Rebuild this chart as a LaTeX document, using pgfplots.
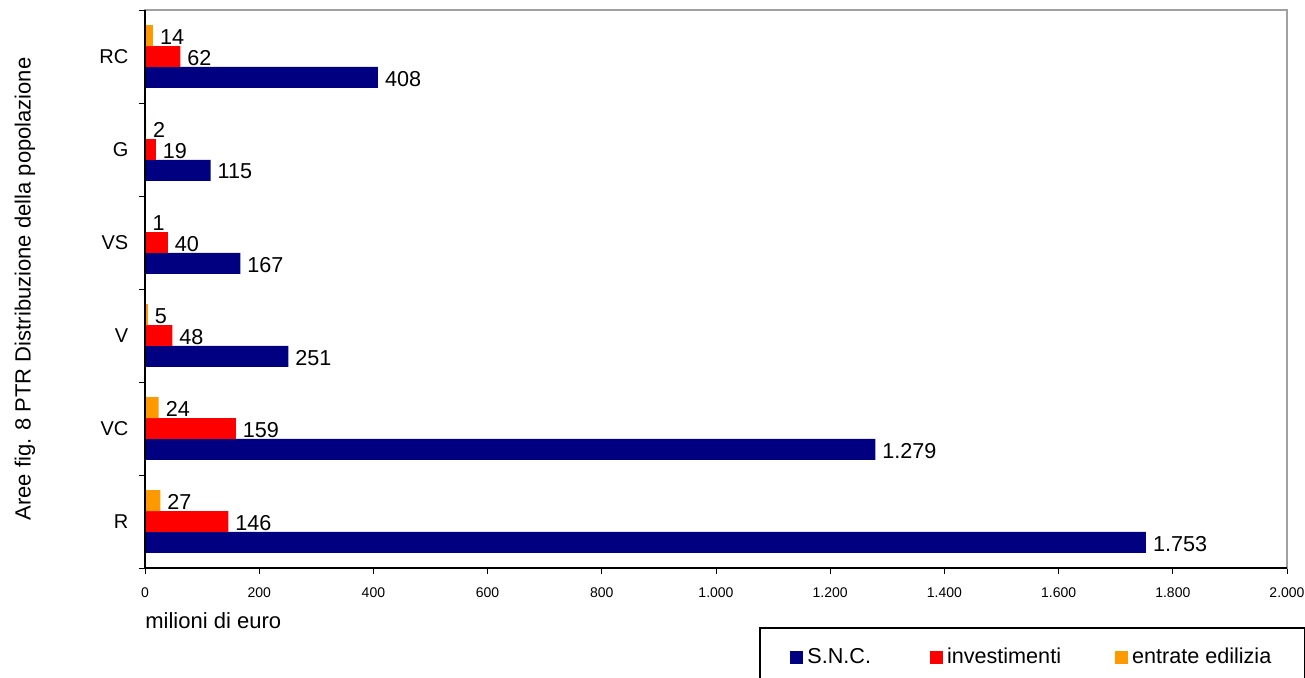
\documentclass[border=0pt]{standalone}
\usepackage{pgfplots}
\usepackage{pgfplotstable}
\pgfplotsset{compat=1.18}
\usepackage{fontspec}
\setmainfont{Liberation Sans}
\definecolor{snc}{RGB}{0,0,128}
\definecolor{inv}{RGB}{255,0,0}
\definecolor{ent}{RGB}{255,153,0}
\definecolor{frame}{RGB}{160,160,160}

\pgfplotstableread{
y snc inv ent
0 1753 146 27
1 1279 159 24
2 251 48 5
3 167 40 1
4 115 19 2
5 408 62 14
}\datatable

\begin{document}
\begin{tikzpicture}
\begin{axis}[
  at={(0pt,0pt)}, anchor=south west,
  scale only axis, width=571pt, height=279pt,
  xmin=0, xmax=2000, ymin=-0.5, ymax=5.5,
  clip=false,
  xbar, bar width=0.225,
  axis line style={frame, line width=0.6pt},
  xtick={0,200,400,600,800,1000,1200,1400,1600,1800,2000},
  xtick pos=bottom, ytick pos=left,
  tick align=outside, major tick length=2.8pt,
  tick style={black, line width=0.5pt},
  ytick={-0.5,0.5,1.5,2.5,3.5,4.5,5.5},
  yticklabels={R,VC,V,VS,G,RC},
  y tick label as interval,
  xticklabel style={font=\fontsize{7}{8}\selectfont, yshift=-3.5pt},
  yticklabel style={font=\fontsize{10}{12}\selectfont, xshift=-2pt},
  /pgf/number format/.cd, 1000 sep={.}, assume math mode=true, /pgfplots/.cd,
  scaled x ticks=false,
  point meta=x,
  nodes near coords,
  nodes near coords style={font=\fontsize{10.8}{12}\selectfont, anchor=west, text=black, yshift=-0.6pt},
  legend columns=3,
  legend style={draw=none, fill=none, at={(axis description cs:0.5648,-0.1595)}, anchor=west,
    inner sep=0pt, font=\fontsize{10.8}{13}\selectfont,
    nodes={inner xsep=2pt, inner ysep=1pt},
    /tikz/column 2/.style={column sep=27.5pt},
    /tikz/column 4/.style={column sep=25pt}},
  legend image code/.code={\fill[#1] (0pt,-3.25pt) rectangle (6.5pt,3.25pt);},
]
\addplot[fill=snc, draw=none, bar shift=-0.225] table[x=snc, y=y] {\datatable};
\addplot[fill=inv, draw=none, bar shift=0] table[x=inv, y=y] {\datatable};
\addplot[fill=ent, draw=none, bar shift=0.225] table[x=ent, y=y] {\datatable};
\legend{S.N.C., investimenti, entrate edilizia}
\draw[black, line width=0.6pt] (rel axis cs:0,1) -- (rel axis cs:0,0) -- (rel axis cs:1,0);
\end{axis}
\node[anchor=base west, font=\fontsize{11}{13}\selectfont, inner sep=0pt] at (0pt,-30pt) {milioni di euro};
\node[rotate=90, font=\fontsize{11}{13}\selectfont, inner sep=0pt] at (-60pt,139.5pt) {Aree fig. 8 PTR Distribuzione della popolazione};
\draw[black, line width=0.6pt] (307.5pt,-30pt) rectangle (579.6pt,-60pt);
\pgfresetboundingbox
\path[use as bounding box] (-72.5pt,-54.5pt) rectangle (580pt,284pt);
\end{tikzpicture}
\end{document}
